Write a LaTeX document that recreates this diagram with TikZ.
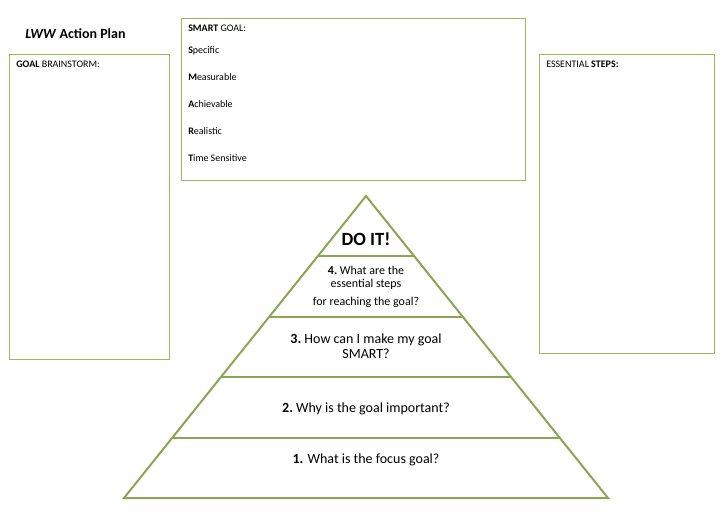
\documentclass[tikz,border=0pt]{standalone}
\usepackage{fontspec}
\setmainfont{Carlito}
\usetikzlibrary{calc}
\definecolor{framegreen}{HTML}{9BBB59}
\definecolor{layergreen}{HTML}{8AA652}
\begin{document}
\begin{tikzpicture}[
      x=0.75pt, y=-0.75pt,
      boxframe/.style={draw=framegreen, line width=0.75pt},
      layerline/.style={draw=layergreen, line width=1.5pt},
      boxhead/.style={anchor=base west, inner sep=0pt, font=\fontsize{7.5}{9}\selectfont},
      layertext/.style={anchor=base, inner sep=0pt, font=\fontsize{10.5}{13}\selectfont},
      smalltext/.style={anchor=base, inner sep=0pt, font=\fontsize{9}{11}\selectfont},
    ]
      \useasboundingbox (0,0) rectangle (727,512);
      % title
      \node[anchor=base west, inner sep=0pt, font=\fontsize{10.5}{13}\selectfont\bfseries]
        (title) at (25,38) {\textit{LWW} Action Plan};
      % boxes
      \draw[boxframe] (9,54) rectangle (169,359);
      \draw[boxframe] (181,18) rectangle (525,180);
      \draw[boxframe] (539,54) rectangle (714,353);
      \node[boxhead] (brainstorm) at (16,67) {\textbf{GOAL} BRAINSTORM:};
      \node[boxhead] (smart) at (188,31) {\textbf{SMART} GOAL:};
      \node[boxhead] (specific) at (188,53) {\textbf{S}pecific};
      \node[boxhead] (measurable) at (188,80) {\textbf{M}easurable};
      \node[boxhead] (achievable) at (188,107) {\textbf{A}chievable};
      \node[boxhead] (realistic) at (188,134) {\textbf{R}ealistic};
      \node[boxhead] (timesens) at (188,161) {\textbf{T}ime Sensitive};
      \node[boxhead] (steps) at (546,67) {ESSENTIAL \textbf{STEPS:}};
      % pyramid
      \coordinate (apex) at (366,196);
      \coordinate (baseL) at (124,498);
      \coordinate (baseR) at (608,498);
      \draw[layerline] (apex) -- (baseL) -- (baseR) -- cycle;
      \foreach \t in {0.2,0.4,0.6,0.8}
        \draw[layerline] ($(apex)!\t!(baseL)$) -- ($(apex)!\t!(baseR)$);
      % layer texts
      \node[anchor=base, inner sep=0pt, font=\fontsize{14}{17}\selectfont\bfseries]
        (doit) at (366,245) {DO IT!};
      \node[smalltext] (q4a) at (366,274) {\textbf{4.}\ What are the};
      \node[smalltext] (q4b) at (366,287) {essential steps};
      \node[smalltext] (q4c) at (366,305) {for reaching the goal?};
      \node[layertext] (q3a) at (366,343) {\textbf{3.}\ How can I make my goal};
      \node[layertext] (q3b) at (366,358) {SMART?};
      \node[layertext] (q2) at (366,412) {\textbf{2.}\ Why is the goal important?};
      \node[layertext] (q1) at (366,463) {\textbf{1.} What is the focus goal?};
    \end{tikzpicture}
\end{document}
